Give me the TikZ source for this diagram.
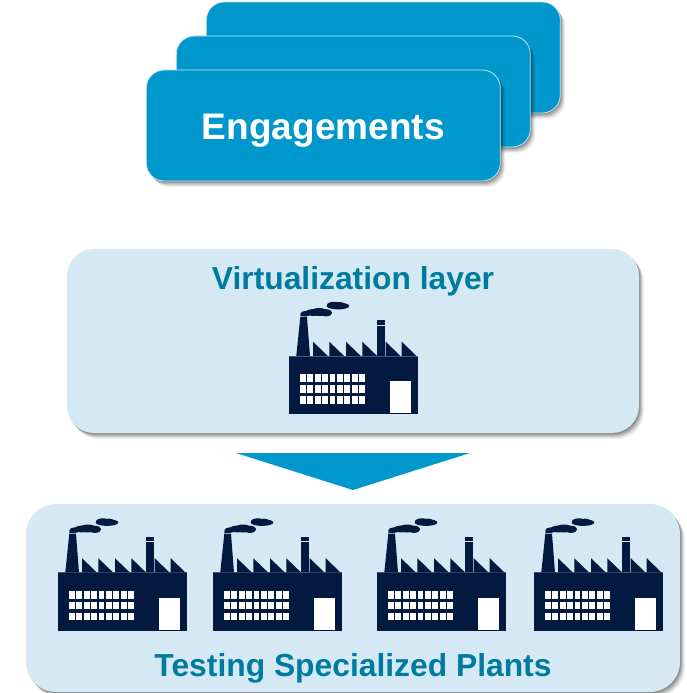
\documentclass[tikz,border=0pt]{standalone}
\usepackage{fontspec}
\setmainfont{Liberation Sans}
\usetikzlibrary{shadows}
\definecolor{cardblue}{HTML}{0098CC}
\definecolor{cardedge}{HTML}{C4E6F3}
\definecolor{paleblue}{HTML}{D5E9F5}
\definecolor{tealtext}{HTML}{007BA0}
\definecolor{navy}{HTML}{03193F}
\tikzset{
  softshadow/.style={
    general shadow={shadow xshift=.8pt,shadow yshift=-1pt,fill=black,opacity=.14,draw=none},
    general shadow={shadow xshift=1.6pt,shadow yshift=-2pt,fill=black,opacity=.12,draw=none},
    general shadow={shadow xshift=2.4pt,shadow yshift=-3pt,fill=black,opacity=.10,draw=none},
    general shadow={shadow xshift=3.2pt,shadow yshift=-4pt,fill=black,opacity=.09,draw=none},
    general shadow={shadow xshift=4pt,shadow yshift=-5pt,fill=black,opacity=.07,draw=none},
    general shadow={shadow xshift=5pt,shadow yshift=-6pt,fill=black,opacity=.05,draw=none}},
  card/.style={rectangle,rounded corners=18pt,minimum width=354pt,minimum height=111pt,
    inner sep=0pt,outer sep=0pt,fill=cardblue,draw=cardedge,line width=.8pt,softshadow},
  cardtext/.style={text=white,inner sep=0pt,font=\bfseries\fontsize{37}{41}\selectfont},
  panel/.style={rectangle,inner sep=0pt,outer sep=0pt,fill=paleblue,softshadow},
  paneltitle/.style={text=tealtext,inner sep=0pt,font=\bfseries\fontsize{31.8}{36}\selectfont},
  factory/.pic={
    % body
    \fill[navy] (0,0) rectangle (129,58);
    \fill[navy!70!paleblue] (0,-.4) rectangle (129,.5);
    % windows
    \foreach \r in {18.2,29,40}{
      \foreach \c in {0,...,8}{
        \fill[white] ({10.7+\c*7.45},\r) rectangle ++(5.9,7.9);
      }
    }
    % door
    \fill[white] (101.3,25) rectangle (121.7,57.3);
    % saw-tooth roof
    \foreach \t in {24,40.3,57,73.3,96.7,112.7}{
      \fill[navy] (\t,-14.3) -- (\t+14.6,-.2) -- (\t,-.2) -- cycle;
    }
    % chimneys
    \fill[navy] (7.3,-.2) -- (11.7,-42.7) -- (17.7,-42.7) -- (21,-.2) -- cycle;
    \fill[paleblue!70!navy] (11.3,-39.6) rectangle (18,-38.7);
    \fill[navy] (88.3,-.2) rectangle (96.3,-35.7);
    \fill[paleblue] (88.3,-31.2) rectangle (96.3,-30.2);
    % smoke
    \fill[navy] (16.5,-42.3) ellipse (5 and 2.8);
    \fill[navy] (24,-43.5) ellipse (7.5 and 3.4);
    \fill[navy] (30,-44) ellipse (8.5 and 4);
    \fill[navy] (37,-43.2) ellipse (6.2 and 3.6);
    \fill[navy] (49,-50) ellipse (11.4 and 3.4);
    \fill[navy] (45,-51) ellipse (7 and 3.2);
    \fill[navy] (51,-51) ellipse (5 and 3);
  }
}
\begin{document}
\begin{tikzpicture}[x=1pt,y=-1pt]
\useasboundingbox (0,0) rectangle (687,693);
% engagement cards
\node[card] (cardback) at (383.3,57.5) {};
\node[card] (cardmid) at (353.3,91.5) {};
\node[card] (cardfront) at (323.3,125.5) {};
\node[cardtext] (cardlabel) at (323.3,131) {Engagements};
% virtualization layer
\node[panel,rounded corners=27pt,minimum width=572pt,minimum height=184pt] (virt) at (353,341) {};
\node[paneltitle] (virttitle) at (353,281) {Virtualization layer};
\pic at (289,356) {factory};
% arrow
\fill[cardblue] (236,453) -- (470,453) -- (353,490) -- cycle;
% plants
\node[panel,rounded corners=30pt,minimum width=654pt,minimum height=188pt] (plants) at (353,598) {};
\node[paneltitle] (plantstitle) at (353,668) {Testing Specialized Plants};
\pic at (58,572.5) {factory};
\pic at (213,572.5) {factory};
\pic at (377,572.5) {factory};
\pic at (534,572.5) {factory};
\end{tikzpicture}
\end{document}
